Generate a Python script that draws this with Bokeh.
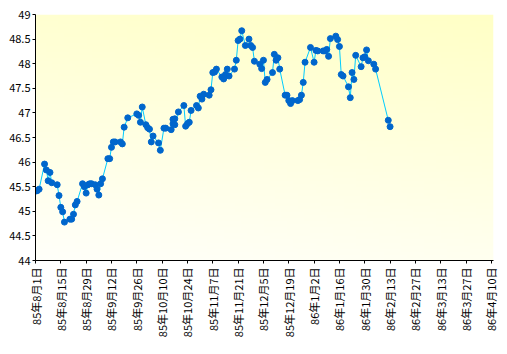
import numpy as np
import pandas as pd
from math import pi
from bokeh.plotting import figure
from bokeh.models import Range1d, FixedTicker, ColumnDataSource
from bokeh.embed import file_html
from bokeh.resources import INLINE

dates = [
    "1985-08-01", "1985-08-02", "1985-08-03", "1985-08-06", "1985-08-07", "1985-08-08",
    "1985-08-09", "1985-08-10", "1985-08-13", "1985-08-14", "1985-08-15", "1985-08-16",
    "1985-08-17", "1985-08-20", "1985-08-21", "1985-08-22", "1985-08-23", "1985-08-24",
    "1985-08-27", "1985-08-28", "1985-08-29", "1985-08-30", "1985-08-31", "1985-09-01",
    "1985-09-03", "1985-09-04", "1985-09-05", "1985-09-06", "1985-09-07", "1985-09-10",
    "1985-09-11", "1985-09-12", "1985-09-13", "1985-09-14", "1985-09-17", "1985-09-18",
    "1985-09-19", "1985-09-21", "1985-09-26", "1985-09-27", "1985-09-28", "1985-09-29",
    "1985-10-01", "1985-10-02", "1985-10-03", "1985-10-04", "1985-10-05", "1985-10-08",
    "1985-10-09", "1985-10-11", "1985-10-12", "1985-10-15", "1985-10-16", "1985-10-16",
    "1985-10-17", "1985-10-17", "1985-10-19", "1985-10-22", "1985-10-23", "1985-10-24",
    "1985-10-25", "1985-10-26", "1985-10-29", "1985-10-30", "1985-10-31", "1985-11-01",
    "1985-11-02", "1985-11-05", "1985-11-06", "1985-11-07", "1985-11-08", "1985-11-09",
    "1985-11-12", "1985-11-13", "1985-11-14", "1985-11-15", "1985-11-16", "1985-11-19",
    "1985-11-20", "1985-11-21", "1985-11-22", "1985-11-23", "1985-11-25", "1985-11-27",
    "1985-11-28", "1985-11-29", "1985-11-30", "1985-12-03", "1985-12-04", "1985-12-05",
    "1985-12-06", "1985-12-07", "1985-12-10", "1985-12-11", "1985-12-12", "1985-12-13",
    "1985-12-14", "1985-12-17", "1985-12-18", "1985-12-19", "1985-12-20", "1985-12-21",
    "1985-12-24", "1985-12-25", "1985-12-26", "1985-12-27", "1985-12-28", "1985-12-31",
    "1986-01-02", "1986-01-03", "1986-01-04", "1986-01-07", "1986-01-08", "1986-01-09",
    "1986-01-10", "1986-01-11", "1986-01-14", "1986-01-15", "1986-01-16", "1986-01-17",
    "1986-01-18", "1986-01-21", "1986-01-22", "1986-01-23", "1986-01-24", "1986-01-25",
    "1986-01-28", "1986-01-29", "1986-01-30", "1986-01-31", "1986-02-01", "1986-02-04",
    "1986-02-05", "1986-02-12", "1986-02-13",
]
values = [
    45.41, 45.42, 45.45, 45.96, 45.84, 45.62,
    45.79, 45.58, 45.54, 45.32, 45.08, 44.99,
    44.78, 44.84, 44.84, 44.94, 45.13, 45.20,
    45.56, 45.50, 45.37, 45.54, 45.56, 45.56,
    45.54, 45.45, 45.33, 45.56, 45.66, 46.07,
    46.07, 46.30, 46.41, 46.41, 46.41, 46.37,
    46.71, 46.90, 46.98, 46.95, 46.81, 47.12,
    46.76, 46.70, 46.67, 46.41, 46.53, 46.39,
    46.24, 46.69, 46.69, 46.66, 46.87, 46.78,
    46.88, 46.76, 47.02, 47.15, 46.73, 46.78,
    46.81, 47.05, 47.15, 47.10, 47.34, 47.28,
    47.38, 47.36, 47.47, 47.82, 47.83, 47.89,
    47.73, 47.69, 47.78, 47.89, 47.75, 47.89,
    48.07, 48.47, 48.50, 48.67, 48.37, 48.50,
    48.37, 48.33, 48.05, 47.99, 47.90, 48.07,
    47.62, 47.68, 47.82, 48.19, 48.07, 48.12,
    47.89, 47.36, 47.36, 47.25, 47.19, 47.25,
    47.25, 47.27, 47.36, 47.62, 48.03, 48.33,
    48.03, 48.27, 48.26, 48.26, 48.26, 48.29,
    48.15, 48.51, 48.56, 48.49, 48.35, 47.78,
    47.75, 47.53, 47.31, 47.82, 47.68, 48.17,
    47.94, 48.12, 48.14, 48.28, 48.06, 47.99,
    47.89, 46.85, 46.72,
]

tick_dates = [
    "1985-08-01", "1985-08-15", "1985-08-29", "1985-09-12", "1985-09-26", "1985-10-10",
    "1985-10-24", "1985-11-07", "1985-11-21", "1985-12-05", "1985-12-19", "1986-01-02",
    "1986-01-16", "1986-01-30", "1986-02-13", "1986-02-27", "1986-03-13", "1986-03-27",
    "1986-04-10",
]
tick_labels = [
    "85年8月1日", "85年8月15日", "85年8月29日", "85年9月12日", "85年9月26日", "85年10月10日",
    "85年10月24日", "85年11月7日", "85年11月21日", "85年12月5日", "85年12月19日", "86年1月2日",
    "86年1月16日", "86年1月30日", "86年2月13日", "86年2月27日", "86年3月13日", "86年3月27日",
    "86年4月10日",
]
y_ticks = [44, 44.5, 45, 45.5, 46, 46.5, 47, 47.5, 48, 48.5, 49]
y_tick_labels = ["44", "44.5", "45", "45.5", "46", "46.5", "47", "47.5", "48", "48.5", "49"]

x_start = pd.Timestamp("1985-08-01 00:00")
x_end = pd.Timestamp("1986-04-11 04:00")

src = ColumnDataSource(data=dict(x=pd.to_datetime(dates), y=values))

p = figure(width=507, height=354, x_axis_type="datetime", output_backend="svg",
           toolbar_location=None, x_range=Range1d(x_start, x_end), y_range=Range1d(44, 49),
           min_border_left=35, min_border_right=14, min_border_top=14, min_border_bottom=94)
p.background_fill_color = "white"
p.border_fill_color = "white"
p.outline_line_color = None
p.grid.visible = False

# gradient background
ny, nx = 80, 80
v = np.linspace(0, 1, ny)[:, None]
h = np.linspace(0, 1, nx)[None, :]
t = np.clip(0.8 * v + 0.2 * h, 0, 1)
b = (250 - t * 52).astype(np.uint32)
img = np.empty((ny, nx), dtype=np.uint32)
view = img.view(dtype=np.uint8).reshape((ny, nx, 4))
view[:, :, 0] = 255
view[:, :, 1] = 255
view[:, :, 2] = b
view[:, :, 3] = 255
x0 = x_start.value / 1e6
dw = (x_end - x_start).total_seconds() * 1000
p.image_rgba(image=[img], x=x0, y=44, dw=dw, dh=5)

p.line("x", "y", source=src, line_color="#00CCFF", line_width=1)
p.scatter("x", "y", source=src, size=6, fill_color="#0066CC", line_color="#0066CC")

tick_ms = [pd.Timestamp(d).value / 1e6 for d in tick_dates]
p.xaxis.ticker = FixedTicker(ticks=tick_ms)
p.xaxis.major_label_overrides = {t_: l for t_, l in zip(tick_ms, tick_labels)}
p.xaxis.major_label_orientation = pi / 2
p.yaxis.ticker = FixedTicker(ticks=y_ticks)
p.yaxis.major_label_overrides = {float(t_): l for t_, l in zip(y_ticks, y_tick_labels)}

for ax in (p.xaxis[0], p.yaxis[0]):
    ax.axis_line_color = "black"
    ax.major_tick_line_color = "black"
    ax.minor_tick_line_color = None
    ax.major_tick_in = 0
    ax.major_label_text_font = "Noto Sans CJK JP"
    ax.major_label_text_font_size = "11px"
    ax.major_label_text_color = "black"
p.xaxis.major_tick_out = 3
p.xaxis.major_label_standoff = 4
p.yaxis.major_tick_out = 3
p.yaxis.major_label_standoff = 2

open("out.html", "w").write(file_html(p, INLINE))
